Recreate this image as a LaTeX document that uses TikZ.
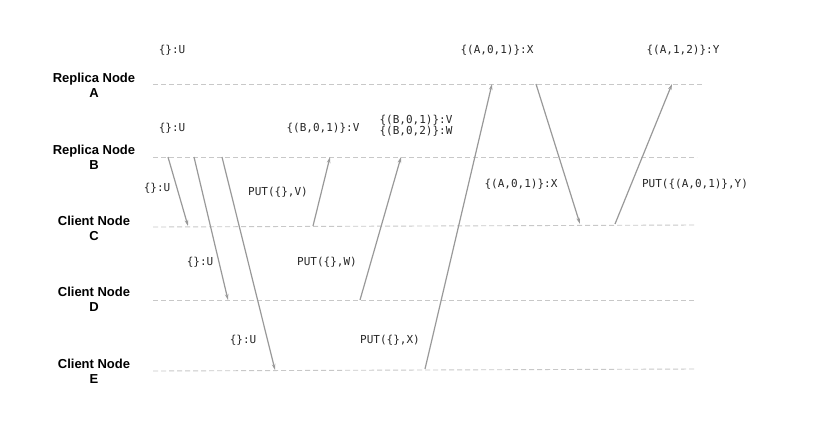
\documentclass[tikz,border=0pt]{standalone}
\usepackage{fontspec}
\setmainfont{Liberation Sans}
\newfontfamily\monof{DejaVu Sans Mono}
\usetikzlibrary{arrows.meta}
\definecolor{lanecol}{HTML}{C8C8C8}
\definecolor{msgcol}{HTML}{999999}
\definecolor{txtcol}{HTML}{262626}
\tikzset{
  lane/.style={draw=lanecol, line width=0.9pt, dash pattern=on 5pt off 3pt},
  msg/.style={draw=msgcol, line width=1.2pt, -{Stealth[length=6pt,width=3.5pt]}},
  lbl/.style={text=txtcol, font=\monof\fontsize{11}{8.5}\selectfont, inner sep=0pt, align=left},
  who/.style={font=\bfseries\fontsize{13}{15}\selectfont, align=center, inner sep=0pt, text=black}
}
\begin{document}
\begin{tikzpicture}[x=1pt,y=-1pt]
\useasboundingbox[fill=white] (0,0) rectangle (818,423);
% process names
\node[who] (nA) at (94,85) {Replica Node\\A};
\node[who] (nB) at (94,157) {Replica Node\\B};
\node[who] (nC) at (94,228) {Client Node\\C};
\node[who] (nD) at (94,299) {Client Node\\D};
\node[who] (nE) at (94,371) {Client Node\\E};
% lanes
\coordinate (a0) at (153,84);  \coordinate (a1) at (703,84);
\coordinate (b0) at (153,157); \coordinate (b1) at (697,157);
\coordinate (c0) at (153,227); \coordinate (c1) at (696,225);
\coordinate (d0) at (153,300); \coordinate (d1) at (696,300);
\coordinate (e0) at (153,371); \coordinate (e1) at (696,369);
\draw[lane] (a0) -- (a1);
\draw[lane] (b0) -- (b1);
\draw[lane] (c0) -- (c1);
\draw[lane] (d0) -- (d1);
\draw[lane] (e0) -- (e1);
% message endpoints
\coordinate (m1s) at (168,157); \coordinate (m1e) at (188,226);
\coordinate (m2s) at (194,157); \coordinate (m2e) at (228,300);
\coordinate (m3s) at (222,157); \coordinate (m3e) at (275,370);
\coordinate (m4s) at (313,226); \coordinate (m4e) at (330,157);
\coordinate (m5s) at (360,300); \coordinate (m5e) at (401,157);
\coordinate (m6s) at (425,369); \coordinate (m6e) at (492,84);
\coordinate (m7s) at (536,84);  \coordinate (m7e) at (580,224);
\coordinate (m8s) at (615,224); \coordinate (m8e) at (672,84);
\draw[msg] (m1s) -- (m1e);
\draw[msg] (m2s) -- (m2e);
\draw[msg] (m3s) -- (m3e);
\draw[msg] (m4s) -- (m4e);
\draw[msg] (m5s) -- (m5e);
\draw[msg] (m6s) -- (m6e);
\draw[msg] (m7s) -- (m7e);
\draw[msg] (m8s) -- (m8e);
% message labels
\node[lbl] (l1) at (157,188) {\{\}:U};
\node[lbl] (l2) at (200,262) {\{\}:U};
\node[lbl] (l3) at (243,340) {\{\}:U};
\node[lbl] (l4) at (278,192) {PUT(\{\},V)};
\node[lbl] (l5) at (327,262) {PUT(\{\},W)};
\node[lbl] (l6) at (390,340) {PUT(\{\},X)};
\node[lbl] (l7) at (521,184) {\{(A,0,1)\}:X};
\node[lbl] (l8) at (695,184) {PUT(\{(A,0,1)\},Y)};
% state labels
\node[lbl] (sA1) at (172,50) {\{\}:U};
\node[lbl] (sA2) at (497,50) {\{(A,0,1)\}:X};
\node[lbl] (sA3) at (683,50) {\{(A,1,2)\}:Y};
\node[lbl] (sB1) at (172,128) {\{\}:U};
\node[lbl] (sB2) at (323,128) {\{(B,0,1)\}:V};
\node[lbl] (sB3) at (416,126) {\{(B,0,1)\}:V\\\{(B,0,2)\}:W};
\end{tikzpicture}
\end{document}
